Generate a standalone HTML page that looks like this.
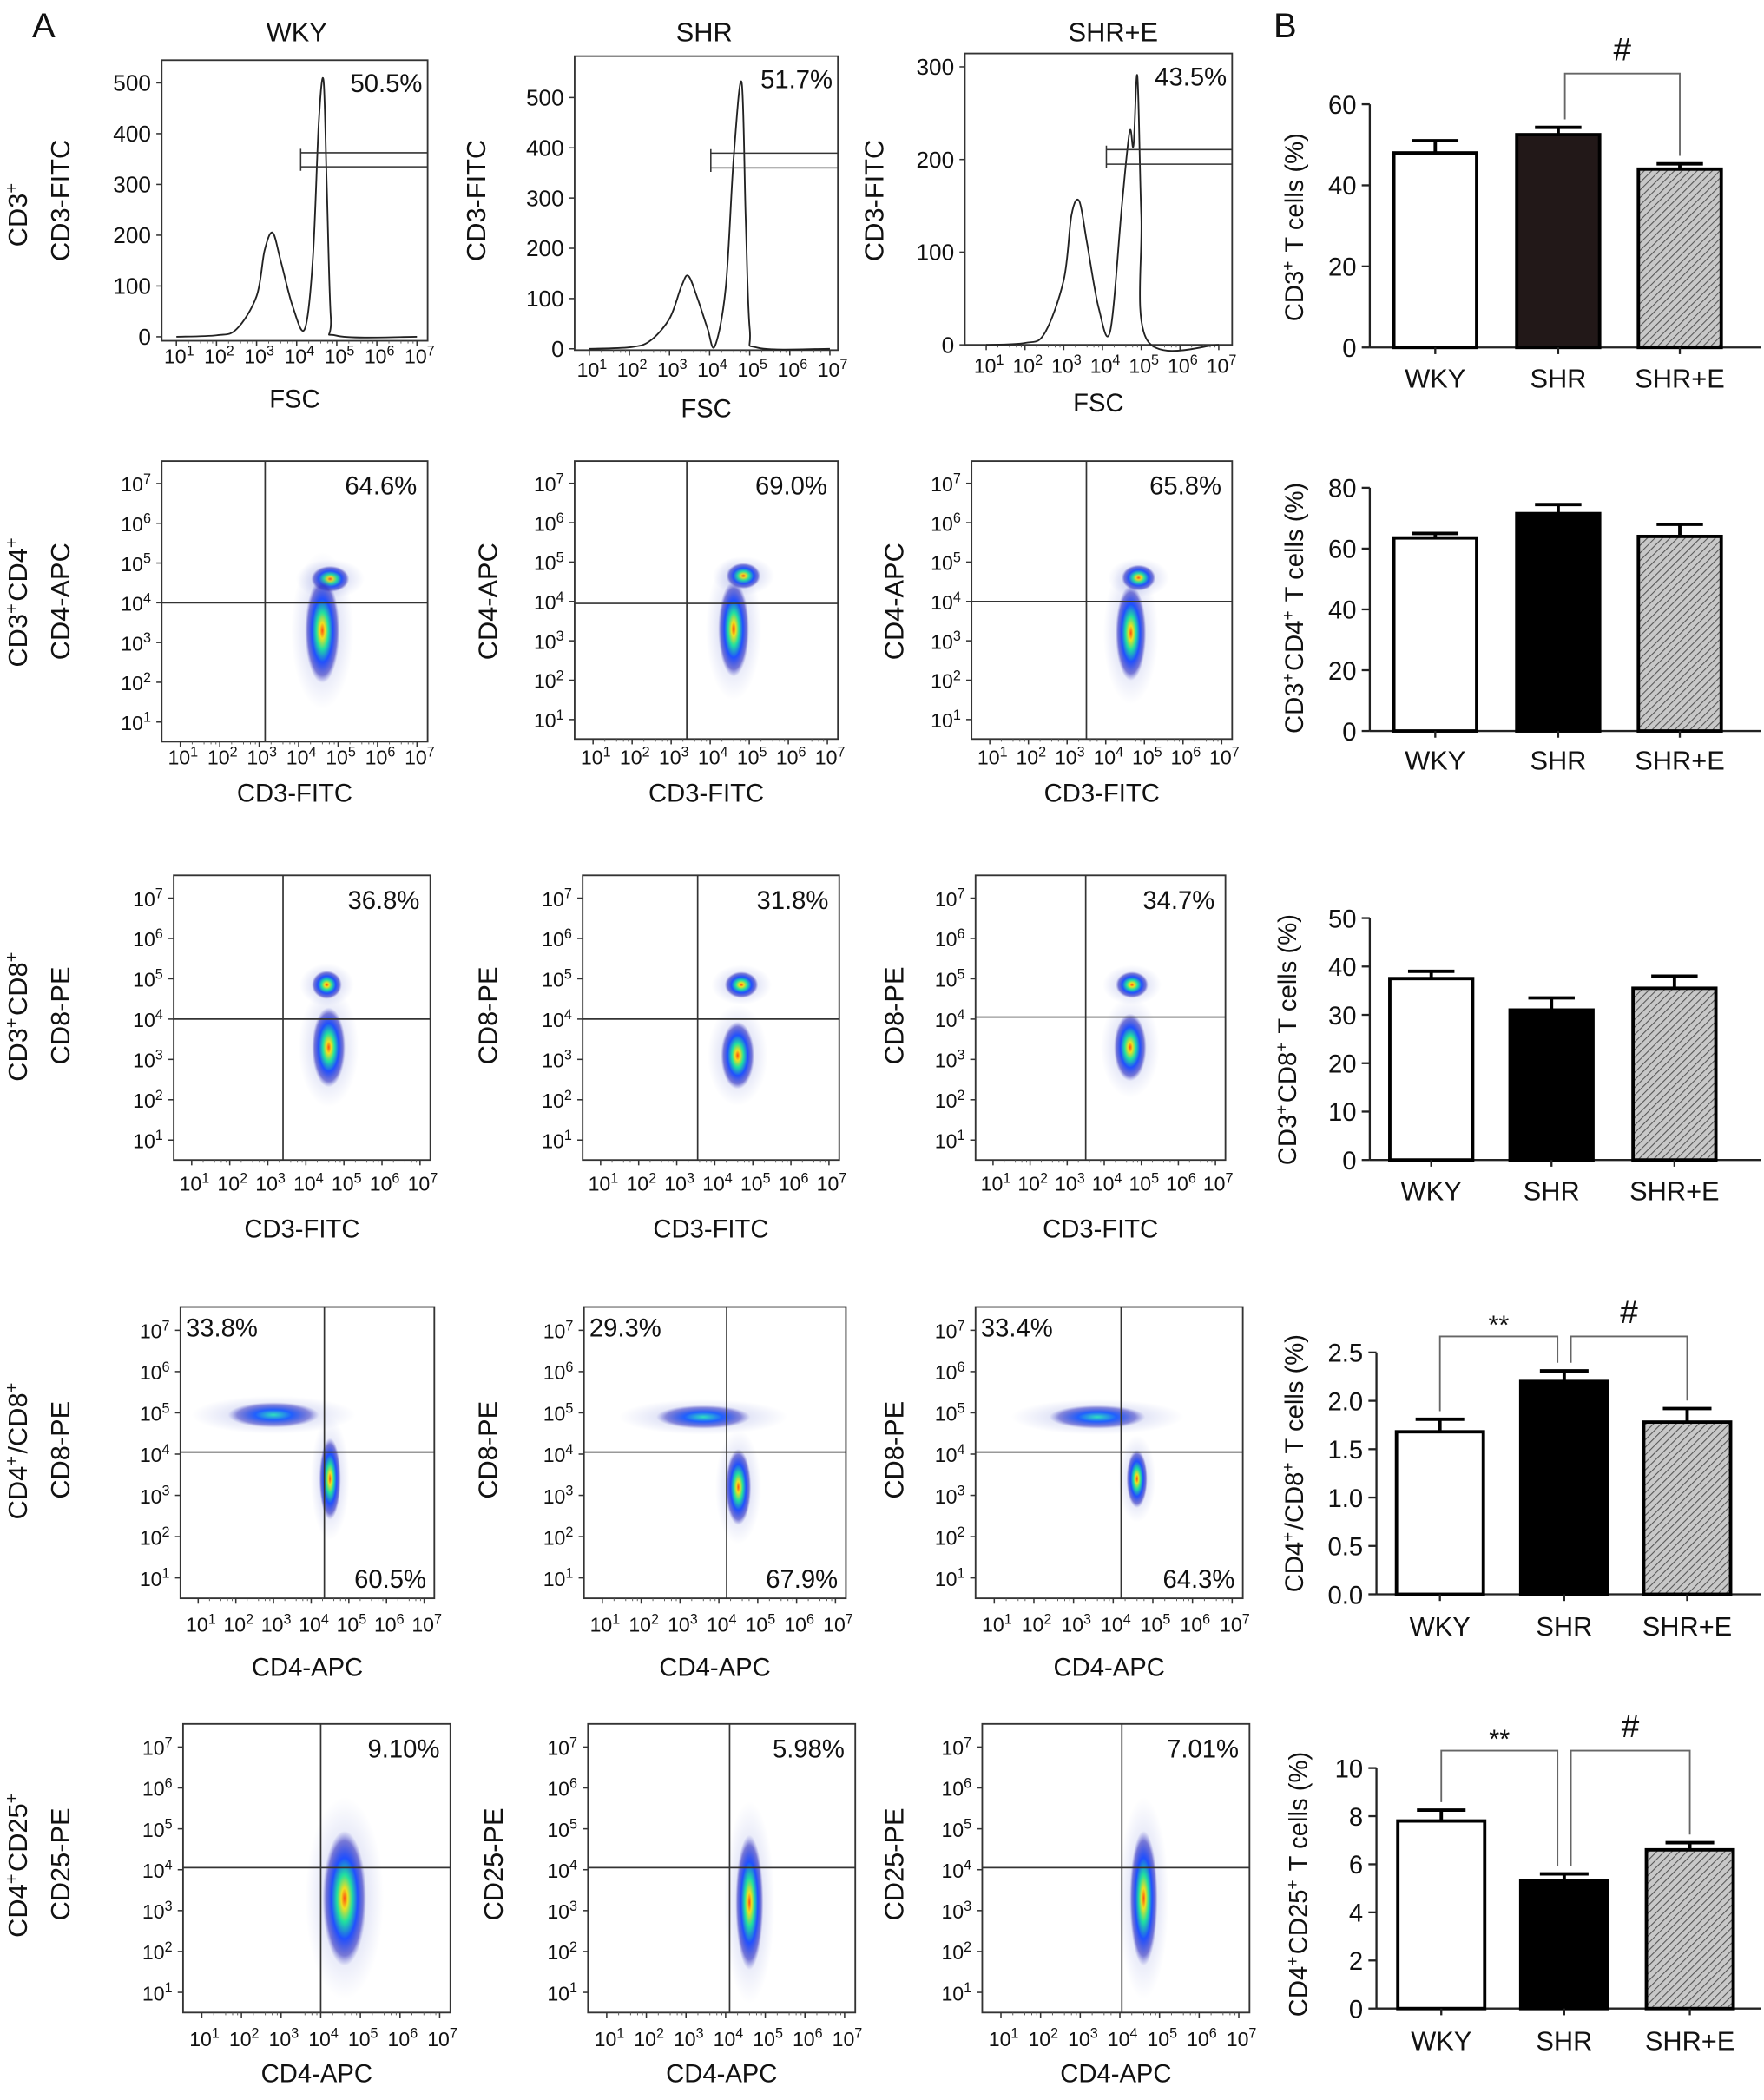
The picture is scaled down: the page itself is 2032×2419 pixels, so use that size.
<!DOCTYPE html>
<html><head><meta charset="utf-8"><style>
html,body{margin:0;padding:0;background:#fff}
svg{display:block}
text{font-family:"Liberation Sans",sans-serif;fill:#111}
</style></head><body>
<svg id="fig" xmlns="http://www.w3.org/2000/svg" width="2032" height="2419" viewBox="0 0 1320 1571.4" preserveAspectRatio="none">
<defs>
<pattern id="hatch" patternUnits="userSpaceOnUse" width="4" height="4" patternTransform="rotate(45)">
<rect width="4" height="4" fill="#c8c8c8"/><line x1="0" y1="0" x2="0" y2="4" stroke="#555" stroke-width="1.4"/></pattern>
<radialGradient id="dens">
<stop offset="0" stop-color="#ff5010"/><stop offset="0.15" stop-color="#f0e020"/><stop offset="0.35" stop-color="#20e0a0"/><stop offset="0.6" stop-color="#2050ff"/><stop offset="0.85" stop-color="#3030c0" stop-opacity="0.6"/><stop offset="1" stop-color="#6060d0" stop-opacity="0"/></radialGradient>
<radialGradient id="dens2">
<stop offset="0" stop-color="#30e0c0"/><stop offset="0.4" stop-color="#2060ff"/><stop offset="0.8" stop-color="#3030c0" stop-opacity="0.5"/><stop offset="1" stop-color="#6060d0" stop-opacity="0"/></radialGradient>
<radialGradient id="halo">
<stop offset="0" stop-color="#4050d0" stop-opacity="0.35"/><stop offset="1" stop-color="#6070d0" stop-opacity="0"/></radialGradient>
</defs>
<g id="root"></g>
</svg>
<script>
// ===== Bar chart data =====
const barCategories = ["WKY","SHR","SHR+E"];
const cd3Values = [48, 52.5, 44];
const cd3Errors = [3, 1.8, 1.3];
const cd4Values = [63.5, 71.5, 64];
const cd4Errors = [1.5, 3, 4];
const cd8Values = [37.5, 31, 35.5];
const cd8Errors = [1.5, 2.5, 2.5];
const ratioValues = [1.68, 2.2, 1.78];
const ratioErrors = [0.13, 0.11, 0.14];
const cd25Values = [7.8, 5.3, 6.6];
const cd25Errors = [0.45, 0.3, 0.3];
const cd3Ticks = [0,20,40,60];
const cd4Ticks = [0,20,40,60,80];
const cd8Ticks = [0,10,20,30,40,50];
const ratioTicks = ["0.0","0.5","1.0","1.5","2.0","2.5"];
const cd25Ticks = [0,2,4,6,8,10];
// ===== Histogram data (log10 FSC, count) =====
const histWKYx = [1,2,2.5,3,3.2,3.4,3.6,3.9,4.2,4.4,4.55,4.67,4.75,4.85,5,7];
const histWKYy = [0,3,15,80,170,205,150,60,15,150,420,505,300,40,2,0];
const histSHRx = [1,2,2.5,3,3.3,3.47,3.7,3.95,4.13,4.4,4.6,4.8,4.9,5.0,5.2,7];
const histSHRy = [0,3,15,60,125,145,100,40,5,120,380,530,260,40,2,0];
const histSHREx = [1,2,2.5,3,3.2,3.4,3.6,3.9,4.2,4.5,4.7,4.8,4.9,5.0,5.15,7];
const histSHREy = [0,2,12,70,140,155,110,40,15,150,230,215,290,140,5,0];
const histPct = ["50.5%","51.7%","43.5%"];
// ===== Dot plot clusters: [xlog, ylog, sdx, sdy, intensity] =====
const clCD4 = [[[4.8,4.6,.22,.15,1],[4.6,3.3,.2,.6,1]],[[4.85,4.65,.2,.15,1],[4.6,3.3,.18,.55,1]],[[4.85,4.6,.2,.15,1],[4.65,3.2,.18,.55,1]]];
const clCD8 = [[[4.55,4.85,.18,.16,1],[4.6,3.3,.2,.45,1]],[[4.7,4.85,.2,.15,1],[4.6,3.1,.2,.38,1]],[[4.75,4.85,.2,.15,1],[4.7,3.3,.2,.38,1]]];
const clRatio = [[[3.0,4.95,.55,.14,0],[4.5,3.4,.13,.45,1]],[[3.6,4.9,.55,.13,0],[4.5,3.2,.15,.42,1]],[[3.6,4.9,.55,.13,0],[4.6,3.4,.12,.32,1]]];
const clCD25 = [[[4.6,3.3,.25,.75,1]],[[4.6,3.2,.16,.75,1]],[[4.6,3.3,.16,.75,1]]];
const pctCD4 = ["64.6%","69.0%","65.8%"];
const pctCD8 = ["36.8%","31.8%","34.7%"];
const pctRatioUL = ["33.8%","29.3%","33.4%"];
const pctRatioLR = ["60.5%","67.9%","64.3%"];
const pctCD25 = ["9.10%","5.98%","7.01%"];
const gateX = [[4.1,4.03,4.1],[3.15,3.4,3.5],[3.4,3.55,3.5],[4.35,4.2,4.2],[4.0,4.1,4.05]];
const gateY = [[4.2,4.25,4.3],[4.0,3.95,4.0],[4.0,4.0,4.05],[4.05,4.05,4.05],[4.05,4.05,4.05]];

const NS="http://www.w3.org/2000/svg";
const root=document.getElementById('root');
function mk(tag,attrs,parent,txt){const e=document.createElementNS(NS,tag);for(const k in attrs)e.setAttribute(k,attrs[k]);if(txt!==undefined)e.textContent=txt;(parent||root).appendChild(e);return e;}
function grp(name,parent){const g=mk('g',{},parent);


return g;}

{const g=grp('panel-labels');
let t=mk('text',{x:24,y:28,'font-size':26},g,'A');
t=mk('text',{x:953,y:28,'font-size':26},g,'B');
[["WKY",222],["SHR",527],["SHR+E",833]].forEach(([s,x])=>{const tt=mk('text',{x:x,y:31,'font-size':20,'text-anchor':'middle'},g,s);

});}

function logTick(g,x,y,n,anchor,fs){const t=mk('text',{x:x,y:y,'font-size':fs,'text-anchor':anchor},g);


mk('tspan',{},t,'10');mk('tspan',{dy:-6,'font-size':fs*0.7},t,String(n));}

function vtext(g,x,y,parts,fs,name){const t=mk('text',{x:0,y:0,'font-size':fs,'text-anchor':'middle',transform:`translate(${x},${y}) rotate(-90)`},g);


parts.forEach(p=>{if(typeof p==='string')mk('tspan',{},t,p);else{mk('tspan',{dy:-7,'font-size':fs*0.65},t,p[0]);mk('tspan',{dy:7},t,'\u200a');}});}

function frame(g,b){const r=mk('rect',{x:b.x,y:b.y,width:b.w,height:b.h,fill:'none',stroke:'#333','stroke-width':1.2},g);

}

function xLogAxis(g,b,sx,labY,title,titleY){for(let n=1;n<=7;n++){const x=sx(n);mk('line',{x1:x,y1:b.y+b.h,x2:x,y2:b.y+b.h+4,stroke:'#333'},g);
for(let m=2;m<10;m+=2){const xm=sx(n+Math.log10(m));if(n<7)mk('line',{x1:xm,y1:b.y+b.h,x2:xm,y2:b.y+b.h+2,stroke:'#555','stroke-width':0.6},g);}
logTick(g,x+2,labY,n,'middle',15);}
const t=mk('text',{x:b.x+b.w/2,y:titleY,'font-size':19,'text-anchor':'middle'},g,title);

}

function smooth(pts){let d='M'+pts[0][0].toFixed(1)+','+pts[0][1].toFixed(1);
for(let i=0;i<pts.length-1;i++){const p0=pts[Math.max(0,i-1)],p1=pts[i],p2=pts[i+1],p3=pts[Math.min(pts.length-1,i+2)];
const c1=[p1[0]+(p2[0]-p0[0])/6,p1[1]+(p2[1]-p0[1])/6],c2=[p2[0]-(p3[0]-p1[0])/6,p2[1]-(p3[1]-p1[1])/6];
d+=`C${c1[0].toFixed(1)},${c1[1].toFixed(1)} ${c2[0].toFixed(1)},${c2[1].toFixed(1)} ${p2[0].toFixed(1)},${p2[1].toFixed(1)}`;}
return d;}

// ===== Histograms =====
const hBoxes=[{x:121,y:45,w:199,h:210,y0:252,ymax:500,yMaxPx:62,ticks:[0,100,200,300,400,500],lx:132,rx:312,lab:272,tt:305,ylab:52},
{x:430,y:42,w:197,h:220,y0:261,ymax:500,yMaxPx:73,ticks:[0,100,200,300,400,500],lx:441,rx:621,lab:282,tt:312,ylab:363},
{x:722,y:40,w:200,h:218,y0:258,ymax:300,yMaxPx:50,ticks:[0,100,200,300],lx:738,rx:912,lab:279,tt:308,ylab:661}];
const hX=[histWKYx,histSHRx,histSHREx],hY=[histWKYy,histSHRy,histSHREy];
{const rg=grp('row-cd3');vtext(rg,20,160,['CD3',['+']],20,'row-label');}
hBoxes.forEach((b,i)=>{const g=grp('histogram-'+barCategories[i].toLowerCase().replace('+','-'));
frame(g,b);
const sx=v=>b.lx+(v-1)*(b.rx-b.lx)/6, sy=v=>b.y0-v*(b.y0-b.yMaxPx)/b.ymax;
b.ticks.forEach(tv=>{const y=sy(tv);mk('line',{x1:b.x-4,y1:y,x2:b.x,y2:y,stroke:'#333'},g);
const t=mk('text',{x:b.x-8,y:y+6,'font-size':17,'text-anchor':'end'},g,String(tv));

});
xLogAxis(g,b,sx,b.lab,'FSC',b.tt);
const pts=hX[i].map((v,k)=>[sx(v),sy(hY[i][k])]);
const p=mk('path',{d:smooth(pts),fill:'none',stroke:'#222','stroke-width':1.2,'stroke-linejoin':'round'},g);


const gx=sx(gateX[0][i]);const gy1=b.y+b.h*0.33,gy2=b.y+b.h*0.38;
const gp=mk('path',{d:`M${gx},${gy1-3}V${gy2+3}M${gx},${gy1}H${b.x+b.w}M${gx},${gy2}H${b.x+b.w}`,fill:'none',stroke:'#333','stroke-width':1},g);


const t=mk('text',{x:b.x+b.w-4,y:b.y+24,'font-size':19,'text-anchor':'end'},g,histPct[i]);


vtext(g,b.ylab,150,['CD3-FITC'],20,'y-axis-title');});

// ===== Dot plots =====
const rows=[
{cl:clCD4,pct:[pctCD4],boxes:[{x:121,y:345,w:199,h:210},{x:430,y:345,w:197,h:208},{x:727,y:345,w:195,h:208}],lab:572,tt:600,xt:'CD3-FITC',yt:'CD4-APC',rl:[['CD3',['+'],'CD4',['+']]],ry:450,ylx:[52,372,676]},
{cl:clCD8,pct:[pctCD8],boxes:[{x:130,y:655,w:192,h:213},{x:436,y:655,w:192,h:213},{x:730,y:655,w:187,h:213}],lab:891,tt:926,xt:'CD3-FITC',yt:'CD8-PE',rl:[['CD3',['+'],'CD8',['+']]],ry:760,ylx:[52,372,676]},
{cl:clRatio,pct:[pctRatioUL,pctRatioLR],boxes:[{x:135,y:978,w:190,h:218},{x:437,y:978,w:196,h:218},{x:730,y:978,w:200,h:218}],lab:1221,tt:1254,xt:'CD4-APC',yt:'CD8-PE',rl:[['CD4',['+'],'/CD8',['+']]],ry:1085,ylx:[52,372,676]},
{cl:clCD25,pct:[pctCD25],boxes:[{x:137,y:1290,w:200,h:216},{x:440,y:1290,w:200,h:216},{x:735,y:1290,w:200,h:216}],lab:1531,tt:1558,xt:'CD4-APC',yt:'CD25-PE',rl:[['CD4',['+'],'CD25',['+']]],ry:1395,ylx:[52,376,676]}];
const rowNames=['cd3-cd4','cd3-cd8','cd4-cd8','cd4-cd25'];
rows.forEach((r,ri)=>{
const rg=grp('row-'+rowNames[ri]);
vtext(rg,20,r.ry,r.rl[0],20,'row-label');
r.boxes.forEach((b,i)=>{const g=grp('dotplot-'+rowNames[ri]+'-'+barCategories[i].toLowerCase().replace('+','-'),rg);
frame(g,b);
const sx=v=>b.x+b.w*0.07+(v-1)*b.w*0.89/6, sy=v=>b.y+b.h*0.93-(v-1)*b.h*0.85/6;
for(let n=1;n<=7;n++){const y=sy(n);mk('line',{x1:b.x-4,y1:y,x2:b.x,y2:y,stroke:'#333'},g);logTick(g,b.x-8,y+6,n,'end',15);}
xLogAxis(g,b,sx,r.lab,r.xt,r.tt);
vtext(g,r.ylx[i],r.ry,[r.yt],20,'y-axis-title');
r.cl[i].forEach(c=>{const rx=c[2]*b.w*0.89/6*2.2,ry=c[3]*b.h*0.85/6*2.2;
const h=mk('ellipse',{cx:sx(c[0]),cy:sy(c[1]),rx:rx*1.8,ry:ry*1.5,fill:'url(#halo)'},g);


const e=mk('ellipse',{cx:sx(c[0]),cy:sy(c[1]),rx:rx,ry:ry,fill:c[4]?'url(#dens)':'url(#dens2)'},g);

});
const qx=sx(gateX[ri+1][i]),qy=sy(gateY[ri+1][i]);
const q=mk('path',{d:`M${qx},${b.y}V${b.y+b.h}M${b.x},${qy}H${b.x+b.w}`,stroke:'#333','stroke-width':1.1,fill:'none'},g);


if(ri===2){let t=mk('text',{x:b.x+4,y:b.y+22,'font-size':19},g,r.pct[0][i]);


t=mk('text',{x:b.x+b.w-6,y:b.y+b.h-8,'font-size':19,'text-anchor':'end'},g,r.pct[1][i]);

}
else{const t=mk('text',{x:b.x+b.w-8,y:b.y+25,'font-size':19,'text-anchor':'end'},g,r.pct[0][i]);

}
});});

// ===== Bar charts =====
const bars=[
{v:cd3Values,e:cd3Errors,ticks:cd3Ticks,max:60,ax:1025,y0:260,ytop:78,bx:[1043,1135,1226],bw:62,lab:290,title:['CD3',['+'],' T cells (%)'],tx:975,ty:170,fs:18,sig:[[1,2,'#',55]]},
{v:cd4Values,e:cd4Errors,ticks:cd4Ticks,max:80,ax:1025,y0:547,ytop:365,bx:[1043,1135,1226],bw:62,lab:576,title:['CD3',['+'],'CD4',['+'],' T cells (%)'],tx:975,ty:455,fs:18,sig:[]},
{v:cd8Values,e:cd8Errors,ticks:cd8Ticks,max:50,ax:1025,y0:868,ytop:687,bx:[1040,1130,1222],bw:62,lab:898,title:['CD3',['+'],'CD8',['+'],' T cells (%)'],tx:970,ty:778,fs:18,sig:[]},
{v:ratioValues,e:ratioErrors,ticks:ratioTicks,max:2.5,ax:1030,y0:1193,ytop:1012,bx:[1045,1138,1230],bw:65,lab:1224,title:['CD4',['+'],'/CD8',['+'],' T cells (%)'],tx:975,ty:1095,fs:18,sig:[[0,1,'**',1000],[1,2,'#',1000]]},
{v:cd25Values,e:cd25Errors,ticks:cd25Ticks,max:10,ax:1030,y0:1503,ytop:1323,bx:[1046,1138,1232],bw:65,lab:1534,title:['CD4',['+'],'CD25',['+'],' T cells (%)'],tx:978,ty:1410,fs:18,sig:[[0,1,'**',1310],[1,2,'#',1310]]}];
const barNames=['cd3','cd3-cd4','cd3-cd8','cd4-cd8-ratio','cd4-cd25'];
const fills=['#fff','#000','url(#hatch)'];
bars.forEach((c,ci)=>{const g=grp('bar-chart-'+barNames[ci]);
const sy=v=>c.y0-Number(v)*(c.y0-c.ytop)/c.max;
mk('line',{x1:c.ax,y1:c.y0,x2:c.ax,y2:c.ytop,stroke:'#222','stroke-width':1.5},g);
mk('line',{x1:c.ax,y1:c.y0,x2:1318,y2:c.y0,stroke:'#222','stroke-width':1.5},g);
c.ticks.forEach(tv=>{const y=sy(tv);mk('line',{x1:c.ax-6,y1:y,x2:c.ax,y2:y,stroke:'#222','stroke-width':1.5},g);
const t=mk('text',{x:c.ax-10,y:y+7,'font-size':19,'text-anchor':'end'},g,String(tv));

});
const tops=[];
c.v.forEach((v,i)=>{const x=c.bx[i],cx=x+c.bw/2,y=sy(v),ye=sy(v+c.e[i]);tops.push(ye);
const r=mk('rect',{x:x,y:y,width:c.bw,height:c.y0-y,fill:ci===0&&i===1?'#221818':fills[i],stroke:'#000','stroke-width':2.5},g);


const eb=mk('path',{d:`M${cx},${y}V${ye}M${cx-c.bw*0.28},${ye}H${cx+c.bw*0.28}`,stroke:'#000','stroke-width':2.5,fill:'none'},g);


mk('line',{x1:cx,y1:c.y0,x2:cx,y2:c.y0+5,stroke:'#222','stroke-width':1.5},g);
const t=mk('text',{x:cx,y:c.lab,'font-size':20,'text-anchor':'middle'},g,barCategories[i]);

});
c.sig.forEach(([a,b2,s,yb])=>{const xa=c.bx[a]+c.bw/2+(a===1?5:0),xb=c.bx[b2]+c.bw/2-(b2===1?5:0);
const p=mk('path',{d:`M${xa},${tops[a]-6}V${yb}H${xb}V${tops[b2]-6}`,stroke:'#666','stroke-width':1.2,fill:'none'},g);


const t=mk('text',{x:(xa+xb)/2,y:yb-(s==='#'?10:2),'font-size':s==='#'?24:20,'text-anchor':'middle'},g,s);

});
vtext(g,c.tx,c.ty,c.title,c.fs+1,'y-axis-title');});
</script>
</body></html>
